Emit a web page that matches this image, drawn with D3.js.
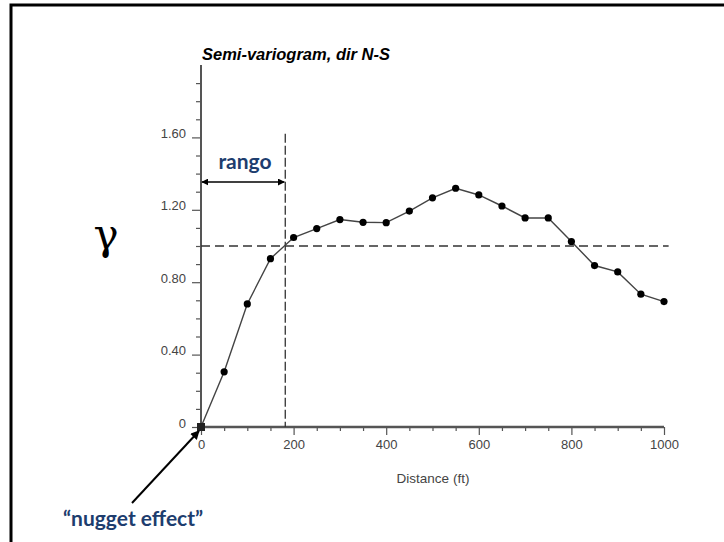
<!DOCTYPE html>
<html><head><meta charset="utf-8">
<script src="https://cdn.jsdelivr.net/npm/d3@7"></script>
<style>
html,body{margin:0;padding:0;background:#fff;}
svg{display:block;}
</style></head>
<body>
<script>
const distances = [0,50,100,150,200,250,300,350,400,450,500,550,600,650,700,750,800,850,900,950,1000];
const gammaValues = [0,0.305,0.68,0.93,1.047,1.096,1.146,1.131,1.129,1.193,1.266,1.319,1.282,1.221,1.155,1.155,1.025,0.892,0.857,0.734,0.693];
const yMajorTicks = [0,0.4,0.8,1.2,1.6];
const yMinorTicks = [0.1,0.2,0.3,0.5,0.6,0.7,0.9,1.0,1.1,1.3,1.4,1.5,1.7,1.8,1.9];
const xMajorTicks = [0,200,400,600,800,1000];
const xMinorTicks = [50,100,150,250,300,350,450,500,550,650,700,750,850,900,950];
const sill = 1.0;
const rangeDist = 182;
const titleText = "Semi-variogram, dir N-S";
const xLabel = "Distance (ft)";
const yLabel = "\u03B3";
const rangeLabel = "rango";
const nuggetLabel = "\u201Cnugget effect\u201D";

const W = 724, H = 542;
const svg = d3.select("body").append("svg").attr("width", W).attr("height", H);

// frame
svg.append("path").attr("d", `M11,${H} V5 H${W}`).attr("fill","none").attr("stroke","#000").attr("stroke-width",3);

const x = d3.scaleLinear().domain([0,1000]).range([201,664]);
const y = d3.scaleLinear().domain([0,2.0]).range([427,65]);

const defs = svg.append("defs");
defs.append("marker").attr("id","ah").attr("viewBox","0 0 10 10").attr("refX",9).attr("refY",5)
  .attr("markerWidth",7).attr("markerHeight",7).attr("orient","auto-start-reverse").attr("markerUnits","userSpaceOnUse")
  .append("path").attr("d","M0,0 L10,5 L0,10 z").attr("fill","#000");
defs.append("marker").attr("id","ah2").attr("viewBox","0 0 10 10").attr("refX",9).attr("refY",5)
  .attr("markerWidth",10).attr("markerHeight",9).attr("orient","auto").attr("markerUnits","userSpaceOnUse")
  .append("path").attr("d","M0,0 L10,5 L0,10 z").attr("fill","#000");

const axisColor = "#555";
const labelColor = "#444";
const tickFont = "13px 'Liberation Sans', Arial, sans-serif";

// y axis minor ticks
const gyMinor = svg.append("g").attr("transform","translate(201,0)")
  .call(d3.axisLeft(y).tickValues(yMinorTicks).tickSize(5).tickFormat(""));
// y axis major
const gy = svg.append("g").attr("transform","translate(201,0)")
  .call(d3.axisLeft(y).tickValues(yMajorTicks).tickSize(9).tickPadding(6)
    .tickFormat(d => d === 0 ? "0" : d.toFixed(2)));
[gyMinor, gy].forEach(g => {
  g.select(".domain").remove();
  g.selectAll("line").attr("stroke", axisColor).attr("stroke-width",1.2);
  g.selectAll("text").attr("fill", labelColor).style("font", tickFont).attr("dy","0em");
});
svg.append("line").attr("x1",201).attr("x2",201).attr("y1",y(2.0)).attr("y2",y(0))
  .attr("stroke",axisColor).attr("stroke-width",2);

// x axis
const gxMinor = svg.append("g").attr("transform",`translate(0,${y(0)})`)
  .call(d3.axisBottom(x).tickValues(xMinorTicks).tickSize(4).tickFormat(""));
const gx = svg.append("g").attr("transform",`translate(0,${y(0)})`)
  .call(d3.axisBottom(x).tickValues(xMajorTicks).tickSize(8).tickPadding(5).tickFormat(d3.format("d")));
[gxMinor, gx].forEach(g => {
  g.select(".domain").remove();
  g.selectAll("line").attr("stroke", axisColor).attr("stroke-width",1.2);
  g.selectAll("text").attr("fill", labelColor).style("font", tickFont);
});
svg.append("line").attr("x1",x(0)).attr("x2",x(1000)).attr("y1",y(0)).attr("y2",y(0))
  .attr("stroke",axisColor).attr("stroke-width",2.5);

// sill dashed line
svg.append("line").attr("x1",x(0)).attr("x2",x(1010)).attr("y1",y(sill)).attr("y2",y(sill))
  .attr("stroke","#333").attr("stroke-width",1.3).attr("stroke-dasharray","9,5");
// range dashed line
svg.append("line").attr("x1",x(rangeDist)).attr("x2",x(rangeDist)).attr("y1",y(1.62)).attr("y2",y(0))
  .attr("stroke","#333").attr("stroke-width",1.3).attr("stroke-dasharray","9,3");

// data line
const pts = distances.map((d,i)=>[d,gammaValues[i]]);
svg.append("path").datum(pts)
  .attr("d", d3.line().x(d=>x(d[0])).y(d=>y(d[1])))
  .attr("fill","none").attr("stroke","#444").attr("stroke-width",1.4);
svg.selectAll("circle.pt").data(pts.slice(1)).enter().append("circle")
  .attr("class","pt").attr("cx",d=>x(d[0])).attr("cy",d=>y(d[1])).attr("r",3.6).attr("fill","#000");
svg.append("rect").attr("x",x(0)-4).attr("y",y(0)-4).attr("width",8).attr("height",8).attr("fill","#222");

// range arrow
svg.append("line").attr("x1",x(0)+1).attr("x2",x(rangeDist)-1).attr("y1",182).attr("y2",182)
  .attr("stroke","#000").attr("stroke-width",1.5)
  .attr("marker-start","url(#ah)").attr("marker-end","url(#ah)");
svg.append("text").attr("x",245).attr("y",169).attr("text-anchor","middle")
  .attr("fill","#1d3d6e").style("font","bold 21px Lato, 'Open Sans', sans-serif").text(rangeLabel);

// nugget arrow
svg.append("line").attr("x1",132).attr("y1",503).attr("x2",199).attr("y2",431)
  .attr("stroke","#000").attr("stroke-width",2).attr("marker-end","url(#ah2)");
svg.append("text").attr("x",63).attr("y",526)
  .attr("fill","#1d3d6e").style("font","bold 21px Lato, 'Open Sans', sans-serif").text(nuggetLabel);

// title
svg.append("text").attr("x",202).attr("y",60).attr("fill","#000")
  .style("font","italic bold 16.5px 'Liberation Sans', Arial, sans-serif").text(titleText);
// x label
svg.append("text").attr("x",433).attr("y",483).attr("text-anchor","middle").attr("fill",labelColor)
  .style("font","13.5px 'Liberation Sans', Arial, sans-serif").text(xLabel);
// y label
svg.append("text").attr("x",106).attr("y",249).attr("text-anchor","middle").attr("fill","#000")
  .style("font","42px 'DejaVu Serif', serif").text(yLabel);
</script>
</body></html>
